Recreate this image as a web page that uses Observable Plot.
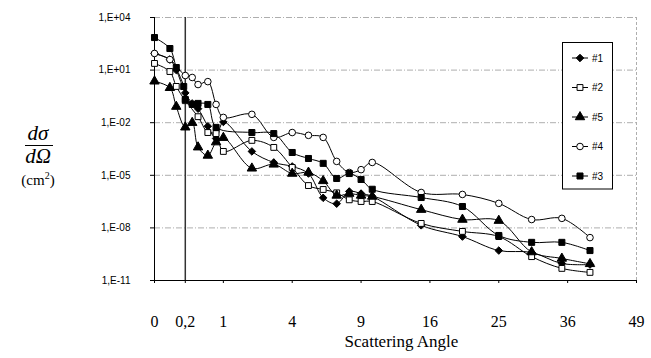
<!DOCTYPE html>
<html>
<head>
<meta charset="utf-8">
<script src="https://cdn.jsdelivr.net/npm/d3@7"></script>
<script src="https://cdn.jsdelivr.net/npm/@observablehq/plot@0.6"></script>
<style>
  html, body { margin: 0; padding: 0; background: #fff; }
  #wrap { position: relative; width: 651px; height: 358px; overflow: hidden; }
  #wrap svg { display: block; }
  .ov { position: absolute; }
</style>
</head>
<body>
<div id="wrap"></div>
<script>
// ---- data ----
const xTicks = [0, 0.2, 1, 4, 9, 16, 25, 36, 49];
const yTicks = [1e4, 1e1, 1e-2, 1e-5, 1e-8, 1e-11];
const legendOrder = ["#1", "#2", "#5", "#4", "#3"];

const x1 = [0, 0.05, 0.1, 0.2, 0.3, 0.4, 0.6, 0.8, 1, 2, 3, 4, 5, 6, 7, 8, 9, 10, 15, 20, 25, 30, 35, 40];
const y1 = [89, 40, 10, 0.5, 0.126, 0.063, 6.3e-3, 1.26e-3, 1.1e-2, 2.3e-4, 5.4e-5, 3.2e-5, 1.26e-5, 5.2e-7, 2.4e-7, 1.2e-6, 9.1e-7, 6.3e-7, 1.4e-8, 3.2e-9, 5.1e-10, 4e-10, 9.3e-11, 8.1e-11];

const x2 = [0, 0.05, 0.1, 0.2, 0.4, 0.6, 0.8, 1, 2, 3, 4, 5, 6, 7, 8, 9, 10, 15, 20, 25, 30, 35, 40];
const y2 = [24, 8.3, 1.17, 0.18, 0.022, 2.75e-3, 2.4e-3, 2.3e-4, 9.8e-4, 3.9e-4, 2.8e-5, 2.6e-6, 1.55e-6, 1e-6, 4e-7, 3.2e-7, 3.2e-7, 1.8e-8, 6.3e-9, 3.2e-9, 2.3e-10, 4.9e-11, 2.9e-11];

const x5 = [0, 0.05, 0.1, 0.2, 0.3, 0.4, 0.6, 0.8, 1, 2, 3, 4, 5, 6, 7, 8, 9, 10, 15, 20, 25, 30, 35, 40];
const y5 = [2.3, 0.98, 0.083, 5.5e-3, 1.0e-2, 4e-4, 1.35e-4, 7.8e-4, 1.4e-3, 2.5e-5, 4.2e-5, 1.26e-5, 1.45e-5, 4.8e-6, 7.1e-7, 9.1e-7, 7.1e-7, 6.2e-7, 1.1e-7, 3e-8, 2.6e-8, 4.2e-10, 1.8e-10, 8.9e-11];

const x4 = [0, 0.05, 0.2, 0.3, 0.4, 0.6, 0.8, 1, 2, 3, 4, 5, 6, 7, 8, 9, 10, 15, 20, 25, 30, 35, 40];
const y4 = [89, 40, 4.9, 3.8, 1.5, 2.2, 0.11, 0.02, 0.03, 1.45e-3, 2.75e-3, 1.9e-3, 1.45e-3, 6.2e-5, 1.45e-5, 2.1e-5, 5.4e-5, 1.05e-6, 8.1e-7, 2.5e-7, 3e-8, 3.5e-8, 2.8e-9];

const x3 = [0, 0.05, 0.1, 0.18, 0.2, 0.3, 0.4, 0.6, 0.8, 2, 3, 4, 5, 6, 7, 8, 9, 10, 15, 20, 25, 30, 35, 40];
const y3 = [720, 170, 14, 1.16, 0.21, 0.11, 0.126, 0.11, 5.4e-3, 2.75e-3, 2.4e-3, 2e-4, 9.1e-5, 4.8e-5, 6.6e-6, 1.26e-5, 5.8e-6, 1.6e-6, 5.4e-7, 1.66e-7, 3.7e-9, 1.5e-9, 1.5e-9, 5.1e-10];

// ---- styling per series ----
const styles = {
  "#1": {symbol: "diamond2", fill: "#000", r: 3.4},
  "#2": {symbol: "square", fill: "#fff", r: 3.3},
  "#5": {symbol: "triangle", fill: "#000", r: 3.5},
  "#4": {symbol: "circle", fill: "#fff", r: 3.3},
  "#3": {symbol: "square", fill: "#000", r: 3.4}
};
const seriesData = {
  "#1": x1.map((x, i) => ({x, y: y1[i]})),
  "#2": x2.map((x, i) => ({x, y: y2[i]})),
  "#5": x5.map((x, i) => ({x, y: y5[i]})),
  "#4": x4.map((x, i) => ({x, y: y4[i]})),
  "#3": x3.map((x, i) => ({x, y: y3[i]}))
};

const yFmt = d => {
  const e = Math.round(Math.log10(d));
  return "1,E" + (e >= 0 ? "+" : "-") + String(Math.abs(e)).padStart(2, "0");
};

const seriesMarks = legendOrder.flatMap(name => {
  const s = styles[name];
  const data = seriesData[name];
  return [
    Plot.line(data, {x: "x", y: "y", curve: "catmull-rom", stroke: "#000", strokeWidth: 1}),
    Plot.dot(data, {x: "x", y: "y", symbol: () => s.symbol, r: s.r, fill: s.fill, stroke: "#000", strokeWidth: 1})
  ];
});

const serif = "Liberation Serif, Times New Roman, serif";

const chart = Plot.plot({
  width: 651,
  height: 358,
  marginLeft: 154,
  marginRight: 15,
  marginTop: 17,
  marginBottom: 78,
  style: {fontFamily: "Liberation Sans, Arial, sans-serif", background: "#fff", color: "#000"},
  x: {type: "sqrt", domain: [0, 49]},
  y: {type: "log", domain: [1e-11, 1e4]},
  marks: [
    Plot.ruleY(yTicks, {y: d => d, stroke: "#999", strokeWidth: 0.8, strokeDasharray: "6,2,1,2"}),
    Plot.ruleX([49], {x: d => d, stroke: "#999", strokeWidth: 0.8, strokeDasharray: "3,2"}),
    Plot.axisY({ticks: yTicks, tickFormat: yFmt, tickSize: 4, tickPadding: 20, fontSize: 10, label: null}),
    Plot.axisX({ticks: xTicks, tickFormat: d => String(d).replace(".", ","), tickSize: 3, tickPadding: 32,
      fontSize: 16, fontFamily: serif, label: null}),
    Plot.ruleX([0], {x: d => d, stroke: "#000", strokeWidth: 1}),
    Plot.ruleY([1e-11], {y: d => d, stroke: "#000", strokeWidth: 1}),
    Plot.ruleX([0.2], {x: d => d, stroke: "#333", strokeWidth: 1.5}),
    ...seriesMarks,
    Plot.text(["Scattering Angle"], {frameAnchor: "bottom", dy: 66, dx: 6, fontSize: 17,
      fontFamily: serif, fill: "#000"})
  ]
});
const wrap = document.getElementById("wrap");
wrap.appendChild(chart);

// ---- y-axis label (fraction) ----
const lab = d3.select(wrap).append("svg").attr("class", "ov")
  .style("left", "0px").style("top", "0px")
  .attr("width", 90).attr("height", 358);
lab.append("text").attr("x", 38).attr("y", 140).attr("text-anchor", "middle")
  .attr("font-family", serif).attr("font-size", 21).attr("font-style", "italic").text("dσ");
lab.append("line").attr("x1", 25).attr("x2", 53).attr("y1", 145.5).attr("y2", 145.5)
  .attr("stroke", "#000").attr("stroke-width", 1);
lab.append("text").attr("x", 38).attr("y", 163).attr("text-anchor", "middle")
  .attr("font-family", serif).attr("font-size", 21).attr("font-style", "italic").text("dΩ");
const cm = lab.append("text").attr("x", 38).attr("y", 185).attr("text-anchor", "middle")
  .attr("font-family", serif).attr("font-size", 15);
cm.append("tspan").text("(cm");
cm.append("tspan").attr("dy", -6).attr("font-size", 10).text("2");
cm.append("tspan").attr("dy", 6).text(")");

// ---- legend ----
const lg = d3.select(wrap).append("svg").attr("class", "ov")
  .style("left", "562px").style("top", "42px")
  .attr("width", 51).attr("height", 148);
lg.append("rect").attr("x", 0.5).attr("y", 0.5).attr("width", 50).attr("height", 146.5)
  .attr("fill", "#fff").attr("stroke", "#000").attr("stroke-width", 1);
legendOrder.forEach((name, i) => {
  const s = styles[name];
  const cy = 16 + i * 29.5;
  lg.append("line").attr("x1", 10).attr("x2", 26).attr("y1", cy).attr("y2", cy)
    .attr("stroke", "#000").attr("stroke-width", 1);
  const sym = {diamond2: d3.symbolDiamond2, square: d3.symbolSquare, triangle: d3.symbolTriangle, circle: d3.symbolCircle}[s.symbol];
  lg.append("path").attr("d", d3.symbol(sym, Math.PI * s.r * s.r)())
    .attr("transform", `translate(18,${cy})`).attr("fill", s.fill).attr("stroke", "#000");
  lg.append("text").attr("x", 30).attr("y", cy).attr("dy", "0.35em")
    .attr("font-family", "Liberation Sans, Arial, sans-serif").attr("font-size", 10).text(name);
});
</script>
</body>
</html>
